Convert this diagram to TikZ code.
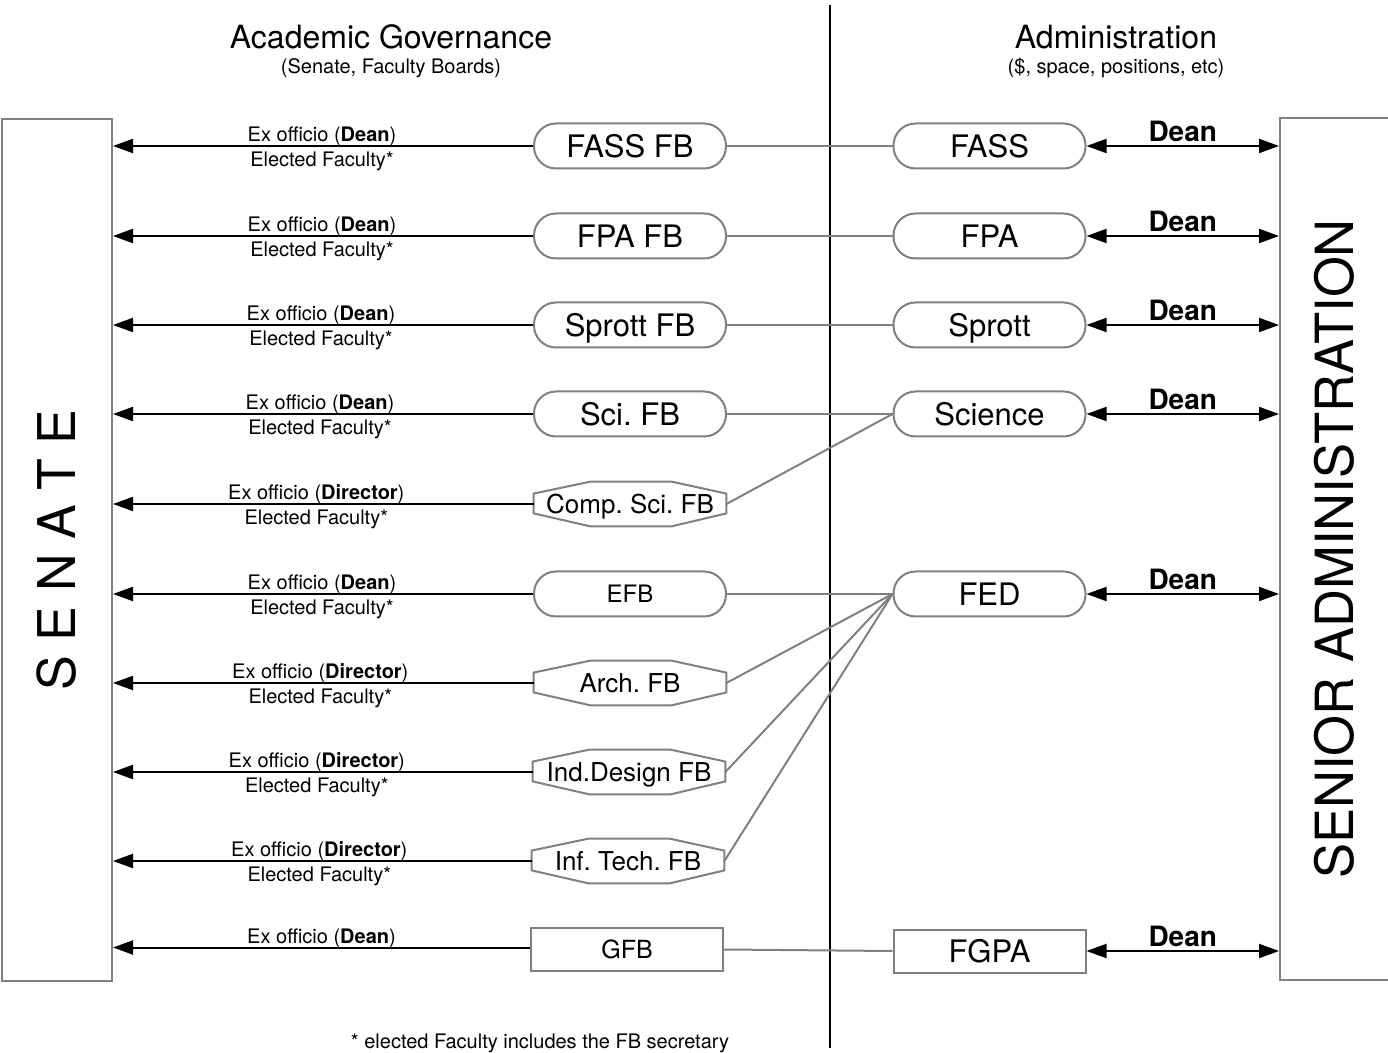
\documentclass[tikz,border=0pt]{standalone}
\usepackage{fontspec}
\setmainfont{TeX Gyre Heros}
\usetikzlibrary{arrows.meta,calc}
\definecolor{boxgray}{RGB}{128,128,128}
\newcommand\octshape[1]{\draw[boxgray,line width=1pt]
 ($(#1.north west)+(0,-6pt)$) -- ($(#1.north west)+(28.5pt,0)$) --
 ($(#1.north east)+(-27.5pt,0)$) -- ($(#1.north east)+(0,-6pt)$) --
 ($(#1.south east)+(0,6.5pt)$) -- ($(#1.south east)+(-27.5pt,0)$) --
 ($(#1.south west)+(28.5pt,0)$) -- ($(#1.south west)+(0,6.5pt)$) -- cycle;}
\begin{document}
\frenchspacing
\begin{tikzpicture}[x=0.5pt,y=-0.5pt,
 rbox/.style={draw=boxgray,line width=1pt,rounded corners=11pt,minimum width=96pt,minimum height=22.5pt,inner sep=0pt,font=\fontsize{15.5}{18}\selectfont,text height=11.1pt,text depth=0pt},
 obox/.style={minimum width=96pt,minimum height=22pt,inner sep=0pt,font=\fontsize{13}{15}\selectfont,text height=9.3pt,text depth=0pt},
 sbox/.style={draw=boxgray,line width=1pt,minimum width=96pt,minimum height=21.5pt,inner sep=0pt,text depth=0pt},
 bigbox/.style={draw=boxgray,line width=1pt,inner sep=0pt},
 larr/.style={-{Triangle[length=10pt,width=7pt]},line width=1pt},
 darr/.style={{Triangle[length=10pt,width=7pt]}-{Triangle[length=10pt,width=7pt]},line width=1pt},
 glink/.style={boxgray,line width=1pt},
 small/.style={font=\fontsize{10}{12}\selectfont,inner sep=1.5pt},
 dean/.style={font=\fontsize{14}{16}\selectfont\bfseries,inner sep=1.5pt}]
\useasboundingbox (0,0) rectangle (1388,1053);

% titles
\node[font=\fontsize{16}{19}\selectfont] (t1) at (391,37) {Academic Governance};
\node[font=\fontsize{10}{12}\selectfont] (t1s) at (391,68) {(Senate, Faculty Boards)};
\node[font=\fontsize{16}{19}\selectfont] (t2) at (1116,37) {Administration};
\node[font=\fontsize{10}{12}\selectfont] (t2s) at (1116,68) {(\$, space, positions, etc)};

% divider
\coordinate (dtop) at (830,5);
\coordinate (dbot) at (830,1048);
\draw[line width=1pt] (dtop) -- (dbot);

% big boxes
\node[bigbox,minimum width=55pt,minimum height=431pt] (senate) at (57,550) {};
\node[rotate=90,font=\fontsize{26}{30}\selectfont] (senatetxt) at (57,550) {S E N A T E};
\node[bigbox,minimum width=60pt,minimum height=431pt] (sa) at (1340,549) {};
\node[rotate=90,font=\fontsize{26.3}{30}\selectfont] (satxt) at (1334,549) {SENIOR ADMINISTRATION};

% left nodes
\node[rbox] (fassfb) at (630,146) {FASS FB};
\node[rbox] (fpafb) at (630,236) {FPA FB};
\node[rbox] (sprottfb) at (630,325) {Sprott FB};
\node[rbox] (scifb) at (630,414) {Sci. FB};
\node[obox] (csfb) at (630,504) {Comp. Sci. FB};
\node[rbox,font=\fontsize{12}{14}\selectfont,text height=8.6pt] (efb) at (630,594) {EFB};
\node[obox] (archfb) at (630,683) {Arch. FB};
\node[obox] (idfb) at (629,772) {Ind.Design FB};
\node[obox] (itfb) at (628,861) {Inf. Tech. FB};
\node[sbox,font=\fontsize{12.5}{14}\selectfont,text height=9pt] (gfb) at (627,949.5) {GFB};
\octshape{csfb}
\octshape{archfb}
\octshape{idfb}
\octshape{itfb}

% right nodes
\node[rbox] (fass) at (989.5,146) {FASS};
\node[rbox] (fpa) at (989.5,236) {FPA};
\node[rbox] (sprott) at (989.5,325) {Sprott};
\node[rbox] (science) at (989.5,414) {Science};
\node[rbox] (fed) at (989.5,594) {FED};
\node[sbox,font=\fontsize{15.5}{18}\selectfont,text height=11.1pt] (fgpa) at (989.5,951) {FGPA};

% gray links
\draw[glink] (fassfb) -- (fass);
\draw[glink] (fpafb) -- (fpa);
\draw[glink] (sprottfb) -- (sprott);
\draw[glink] (scifb) -- (science);
\draw[glink] (csfb.east) -- (science.west);
\draw[glink] (efb) -- (fed);
\draw[glink] (archfb.east) -- (fed.west);
\draw[glink] (idfb.east) -- (fed.west);
\draw[glink] (itfb.east) -- (fed.west);
\draw[glink] (gfb.east) -- (fgpa.west);

% left arrows
\foreach \n/\who/\dx in {fassfb/Dean/-0.5pt,fpafb/Dean/-0.5pt,sprottfb/Dean/-1pt,scifb/Dean/-1.5pt,csfb/Director/-3.5pt,efb/Dean/-0.5pt,archfb/Director/-1.5pt,idfb/Director/-3pt,itfb/Director/-1.5pt}{
  \draw[larr] (\n.west) -- (\n.west -| senate.east)
    node[midway,above,small,yshift=-2pt,xshift=\dx] {Ex officio (\textbf{\who})}
    node[midway,below,small,inner sep=2pt,yshift=-0.5pt,xshift=\dx] {Elected Faculty*};
}
\draw[larr] ($(gfb.west)+(0,1pt)$) -- ($(gfb.west -| senate.east)+(0,1pt)$)
    node[midway,above,small,yshift=-2pt] {Ex officio (\textbf{Dean})};

% right arrows
\foreach \n in {fass,fpa,sprott,science,fed,fgpa}{
  \draw[darr] (\n.east) -- (\n.east -| sa.west)
    node[midway,above,dean] {Dean};
}

% footnote
\node[font=\fontsize{10}{12}\selectfont] (foot) at (540,1043) {* elected Faculty includes the FB secretary};
\end{tikzpicture}
\end{document}
